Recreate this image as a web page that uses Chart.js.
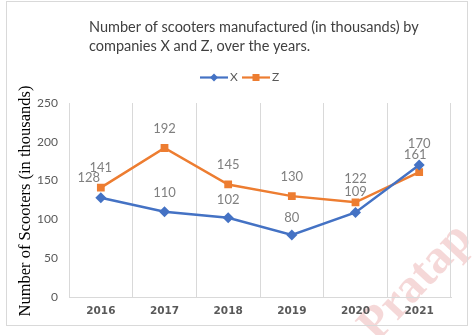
<!DOCTYPE html>
<html>
<head>
<meta charset="utf-8">
<script src="https://cdn.jsdelivr.net/npm/chart.js@4"></script>
<style>
  html, body { margin: 0; padding: 0; background: #fff; }
  #wrap { width: 473px; height: 335px; }
</style>
</head>
<body>
<div id="wrap"><canvas id="mychart" width="473" height="335"></canvas></div>
<script>
const years = ['2016', '2017', '2018', '2019', '2020', '2021'];
const seriesX = [128, 110, 102, 80, 109, 170];
const seriesZ = [141, 192, 145, 130, 122, 161];
const yTicks = [0, 50, 100, 150, 200, 250];
const titleLines = ['Number of scooters manufactured (in thousands) by', 'companies X and Z, over the years.'];
const yTitle = 'Number of Scooters (in thousands)';

const blue = '#4472C4';
const orange = '#ED7D31';
const grey = '#595959';

// title, legend, axis title, frame and watermark drawn by hand
const decor = {
    id: 'decor',
    beforeDraw(chart) {
        const c = chart.ctx;
        c.save();
        c.fillStyle = '#fff';
        c.fillRect(0, 0, chart.width, chart.height);
        // watermark
        c.translate(377, 343);
        c.rotate(-0.82);
        c.font = 'bold 48px "Liberation Serif"';
        c.fillStyle = 'rgba(215, 90, 90, 0.24)';
        c.textBaseline = 'alphabetic';
        c.fillText('Pratap', 0, 0);
        c.restore();
    },
    afterDraw(chart) {
        const c = chart.ctx;
        c.save();
        c.strokeStyle = '#d9d9d9';
        c.lineWidth = 1;
        c.strokeRect(6.5, 1.5, 461, 324);

        c.fillStyle = '#404040';
        c.textBaseline = 'middle';
        c.textAlign = 'left';
        let size = 15.5;
        c.font = size + 'px Lato';
        while (c.measureText(titleLines[0]).width > 331 && size > 10) {
            size -= 0.25;
            c.font = size + 'px Lato';
        }
        c.fillText(titleLines[0], 89, 27);
        c.fillText(titleLines[1], 89, 46);

        // y axis title
        c.save();
        c.translate(26, 201);
        c.rotate(-Math.PI / 2);
        c.font = '16.5px "Liberation Serif"';
        c.fillStyle = '#000';
        c.textAlign = 'center';
        const w = c.measureText(yTitle).width;
        const sp = Math.max(0, (222 - w) / (yTitle.length - 1));
        c.letterSpacing = sp + 'px';
        c.fillText(yTitle, sp / 2, 0);
        c.restore();

        // legend
        const items = [
            { label: 'X', color: blue, x0: 200, style: 'diamond' },
            { label: 'Z', color: orange, x0: 242, style: 'square' }
        ];
        const ly = 77.5;
        c.font = '12px Lato';
        items.forEach(it => {
            c.strokeStyle = it.color;
            c.lineWidth = 2.2;
            c.beginPath();
            c.moveTo(it.x0, ly);
            c.lineTo(it.x0 + 28, ly);
            c.stroke();
            c.fillStyle = it.color;
            const mx = it.x0 + 14;
            if (it.style === 'diamond') {
                c.beginPath();
                c.moveTo(mx, ly - 4);
                c.lineTo(mx + 4, ly);
                c.lineTo(mx, ly + 4);
                c.lineTo(mx - 4, ly);
                c.closePath();
                c.fill();
            } else {
                c.fillRect(mx - 3.5, ly - 3.5, 7, 7);
            }
            c.fillStyle = grey;
            c.fillText(it.label, it.x0 + 30, ly);
        });

        // data labels
        c.font = '13px Lato';
        c.fillStyle = '#7f7f7f';
        c.textAlign = 'center';
        c.textBaseline = 'middle';
        const shifts = [
            [[-12, -20], [0, -19], [0, -18], [0, -17], [0, -21], [0, -21]],
            [[0, -20], [0, -19], [0, -20], [0, -19], [0, -24], [-4, -17]]
        ];
        chart.data.datasets.forEach((ds, di) => {
            chart.getDatasetMeta(di).data.forEach((pt, i) => {
                const s = shifts[di][i];
                c.fillText(String(ds.data[i]), pt.x + s[0], pt.y + s[1]);
            });
        });
        c.restore();
    }
};

const ctx = document.getElementById('mychart').getContext('2d');
let mychart = new Chart(ctx, {
    type: 'line',
    data: {
        labels: years,
        datasets: [
            {
                label: 'X',
                data: seriesX,
                borderColor: blue,
                backgroundColor: blue,
                borderWidth: 2.5,
                pointStyle: 'rectRot',
                pointRadius: 5.5,
                pointBorderWidth: 0,
                tension: 0
            },
            {
                label: 'Z',
                data: seriesZ,
                borderColor: orange,
                backgroundColor: orange,
                borderWidth: 2.5,
                pointStyle: 'rect',
                pointRadius: 5.5,
                pointBorderWidth: 0,
                tension: 0
            }
        ]
    },
    options: {
        responsive: false,
        animation: false,
        layout: { padding: { left: 7, right: 22, top: 103, bottom: 0 } },
        plugins: {
            legend: { display: false },
            title: { display: false },
            tooltip: { enabled: false }
        },
        scales: {
            x: {
                offset: true,
                grid: { offset: true, color: '#d9d9d9', drawTicks: false },
                border: { color: '#d9d9d9' },
                ticks: {
                    color: grey,
                    padding: 8,
                    font: { family: 'DejaVu Sans', size: 10.5, weight: 'bold' }
                },
                afterFit(scale) { scale.height = 38; }
            },
            y: {
                min: 0,
                max: 250,
                grid: { display: false, drawTicks: false },
                border: { display: false },
                afterBuildTicks(scale) { scale.ticks = yTicks.map(v => ({ value: v })); },
                ticks: {
                    color: grey,
                    padding: 11,
                    font: { family: 'Lato', size: 12 }
                },
                afterFit(scale) { scale.width = 62; }
            }
        }
    },
    plugins: [decor]
});
</script>
</body>
</html>
